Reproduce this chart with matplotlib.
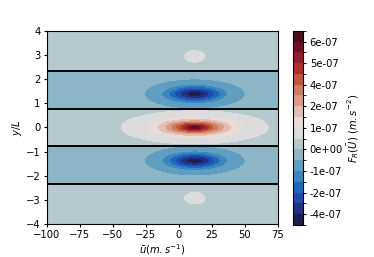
import numpy as np
import matplotlib
matplotlib.use("Agg")
import matplotlib.pyplot as plt
from matplotlib.colors import ListedColormap, BoundaryNorm

# values in units of 1e-7 m s^-2
band_edges = [-2.34, -0.76, 0.76, 2.34]
band_bg = [0.5, -0.55, 0.45, -0.55, 0.5]   # bottom to top

# central blob: stretched exponential of elliptical radius
c_amp = 6.05
c_su = 20.2
c_sy = 0.25
c_p = 1.25

# side blobs (gaussian)
blob_y = [1.38, -1.38, 2.93, -2.93]
blob_amp = [-3.55, -3.55, 0.4, 0.4]
blob_su = [19.5, 19.5, 7.0, 7.0]
blob_sy = [0.316, 0.316, 0.22, 0.22]
blob_u0 = 12.0

levels = np.arange(-7, 12) * 0.625
cb_ticks = -3.75 + np.arange(9) * 1.25
cb_ticklabels = ["-4e-07", "-2e-07", "-1e-07", "0e+00", "1e-07",
                 "2e-07", "4e-07", "5e-07", "6e-07"]

colors = ["#1b1f4e", "#262f7e", "#2249b0", "#1b6ac0", "#3a88bb", "#5f9ec0",
          "#8cb5c5", "#b6c9cd", "#dcdcdc", "#e9dbd7", "#e4beb0", "#da9c84",
          "#cd7a60", "#c0553c", "#ae2f2a", "#921b2c", "#6d1128", "#4a0f1e"]
cmap = ListedColormap(colors)

u = np.linspace(-100, 75, 600)
y = np.linspace(-4, 4, 1201)
U, Y = np.meshgrid(u, y)

band_id = np.digitize(Y, band_edges)
F = np.array(band_bg)[band_id]
r = np.sqrt(((U - blob_u0) / c_su) ** 2 + (Y / c_sy) ** 2)
F = F + np.where(band_id == 2, c_amp * np.exp(-r ** c_p), 0)
for y0, a, su, sy in zip(blob_y, blob_amp, blob_su, blob_sy):
    own = np.digitize([y0], band_edges)[0]
    F = F + np.where(band_id == own,
                     a * np.exp(-((U - blob_u0) / su) ** 2 - ((Y - y0) / sy) ** 2), 0)
F = F * 1e-7

plt.rcParams["font.size"] = 7.2
plt.rcParams["xtick.major.size"] = 2.5
plt.rcParams["ytick.major.size"] = 2.5
plt.rcParams["xtick.major.pad"] = 2.0
plt.rcParams["ytick.major.pad"] = 2.0
fig = plt.figure(figsize=(3.74, 2.57), dpi=100)
ax = fig.add_axes([0.125, 0.128, 0.618, 0.753])
cax = fig.add_axes([0.783, 0.1245, 0.0284, 0.756])

cs = ax.contourf(U, Y, F, levels=levels * 1e-7, cmap=cmap,
                 norm=BoundaryNorm(levels * 1e-7, cmap.N))
for yb in band_edges:
    ax.axhline(yb, color="black", lw=1.4)

ax.set_xlim(-100, 75)
ax.set_ylim(-4, 4)
ax.set_xticks(np.arange(-100, 76, 25))
ax.set_yticks(np.arange(-4, 5, 1))
ax.set_xlabel(r"$\bar{u}(m.s^{-1})$", labelpad=1.5)
ax.set_ylabel(r"$y/L$", labelpad=1)

cb = fig.colorbar(cs, cax=cax)
cb.set_ticks(cb_ticks * 1e-7)
cb.set_ticklabels(cb_ticklabels)
cb.set_label(r"$F_R(\bar{U})$ $(m.s^{-2})$", labelpad=2)

fig.savefig("out.png", dpi=100)
